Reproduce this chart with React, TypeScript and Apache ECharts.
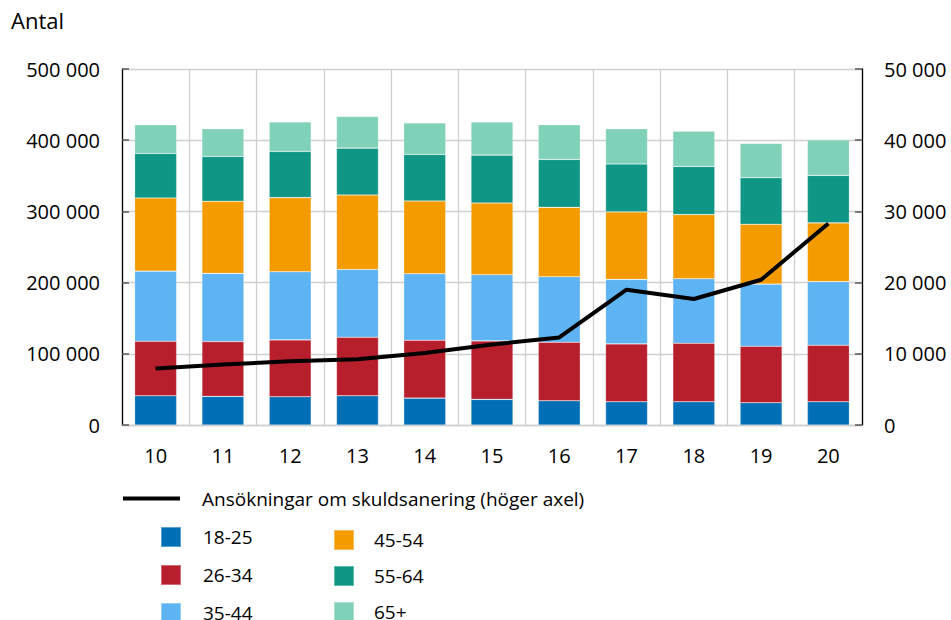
import React, { useEffect, useRef } from "react";
import * as echarts from "echarts";

const categories = ["10", "11", "12", "13", "14", "15", "16", "17", "18", "19", "20"];
const age18_25 = [41000, 40200, 39700, 41000, 37800, 36000, 34000, 32600, 32600, 31200, 32600];
const age26_34 = [76600, 77000, 79800, 82200, 81200, 82100, 82200, 81300, 82200, 79400, 79400];
const age35_44 = [98500, 95700, 95700, 95300, 93400, 93000, 92100, 90600, 90700, 87300, 89300];
const age45_54 = [102800, 101300, 104100, 104600, 102300, 100800, 97400, 94800, 90000, 84000, 82600];
const age55_64 = [62500, 63000, 64900, 65800, 65300, 67200, 67300, 67200, 67700, 65400, 66700];
const age65plus = [40200, 38800, 41600, 44300, 44400, 46700, 48600, 49500, 49500, 48100, 49700];
const applications = [7950, 8500, 8950, 9250, 10100, 11300, 12300, 19000, 17700, 20400, 28300];

const lineName = "Ansökningar om skuldsanering (höger axel)";
const barNames = ["18-25", "26-34", "35-44", "45-54", "55-64", "65+"];
const barData = [age18_25, age26_34, age35_44, age45_54, age55_64, age65plus];
const barColors = ["#006fb6", "#b81f2d", "#5eb3f2", "#f49b00", "#109684", "#7fd1b7"];

const FONT = "'Open Sans', 'Noto Sans', sans-serif";
const fmt = (v: number) => String(v).replace(/\B(?=(\d{3})+(?!\d))/g, " ");

export default function App() {
  const ref = useRef<HTMLDivElement>(null);
  useEffect(() => {
    document.body.style.margin = "0";
    if (!ref.current) return;
    const chart = echarts.init(ref.current, null, { renderer: "svg" });
    const grid = "#d0d0d0";
    chart.setOption({
      animation: false,
      backgroundColor: "#ffffff",
      textStyle: { fontFamily: FONT },
      title: {
        text: "Antal",
        left: 6,
        top: 4,
        textStyle: { fontFamily: FONT, fontSize: 22, fontWeight: "normal", color: "#000" },
      },
      grid: { left: 122, right: 89, top: 69, bottom: 195, containLabel: false, outerBoundsMode: "none" },
      legend: [
        {
          data: [lineName],
          left: 123,
          top: 489,
          padding: 0,
          itemWidth: 57,
          itemHeight: 4,
          icon: "rect",
          textStyle: { fontFamily: FONT, fontSize: 19, color: "#000", padding: [0, 0, 0, 17] },
          selectedMode: false,
        },
        {
          data: barNames.slice(0, 3),
          orient: "vertical",
          left: 160,
          top: 526,
          height: 140,
          itemWidth: 20,
          itemHeight: 20,
          itemGap: 16,
          icon: "rect",
          padding: 0,
          textStyle: { fontFamily: FONT, fontSize: 19, color: "#000", lineHeight: 20, padding: [0, 0, 0, 17] },
          selectedMode: false,
        },
        {
          data: barNames.slice(3),
          orient: "vertical",
          left: 333,
          top: 529,
          height: 140,
          itemWidth: 20,
          itemHeight: 20,
          itemGap: 14,
          icon: "rect",
          padding: 0,
          textStyle: { fontFamily: FONT, fontSize: 19, color: "#000", lineHeight: 20, padding: [0, 0, 0, 15] },
          selectedMode: false,
        },
      ],
      xAxis: {
        type: "category",
        data: categories,
        boundaryGap: true,
        axisLine: { show: true, lineStyle: { color: grid, width: 1.3 } },
        axisTick: { show: false },
        splitLine: { show: true, lineStyle: { color: grid, width: 1.3 } },
        axisLabel: { fontFamily: FONT, fontSize: 20, color: "#000", margin: 20 },
      },
      yAxis: [
        {
          type: "value",
          min: 0,
          max: 500000,
          interval: 100000,
          axisLine: { show: true, lineStyle: { color: "#000", width: 1.3 } },
          axisTick: { show: true, inside: true, length: 7, lineStyle: { color: "#595959", width: 1.5 } },
          splitLine: { show: true, lineStyle: { color: grid, width: 1.3 } },
          axisLabel: { fontFamily: FONT, fontSize: 20, color: "#000", margin: 22, formatter: fmt },
        },
        {
          type: "value",
          min: 0,
          max: 50000,
          interval: 10000,
          axisLine: { show: true, lineStyle: { color: "#000", width: 1.3 } },
          axisTick: { show: true, inside: true, length: 7, lineStyle: { color: "#595959", width: 1.5 } },
          splitLine: { show: false },
          axisLabel: { fontFamily: FONT, fontSize: 20, color: "#000", margin: 22, formatter: fmt },
        },
      ],
      series: [
        ...barNames.map((name, i) => ({
          name,
          type: "bar",
          stack: "age",
          data: barData[i],
          barWidth: 42,
          itemStyle: { color: barColors[i], borderColor: "rgba(255,255,255,0.35)", borderWidth: 0.6 },
          yAxisIndex: 0,
        })),
        {
          name: lineName,
          type: "line",
          data: applications,
          yAxisIndex: 1,
          symbol: "none",
          lineStyle: { color: "#000", width: 4 },
          itemStyle: { color: "#000" },
          z: 5,
        },
      ],
    });
    return () => chart.dispose();
  }, []);
  return <div ref={ref} style={{ width: 951, height: 620 }} />;
}
